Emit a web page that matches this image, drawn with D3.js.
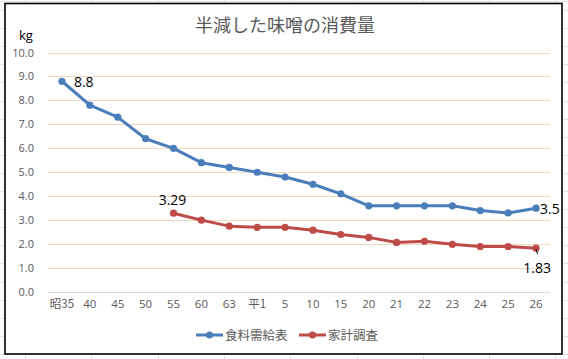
<!DOCTYPE html>
<html><head><meta charset="utf-8">
<script src="https://cdn.jsdelivr.net/npm/d3@7"></script>
<style>body{margin:0;background:#fff}svg{display:block}</style>
</head><body>
<svg id="c" width="568" height="359"></svg>
<script>
const categories = ["昭35","40","45","50","55","60","63","平1","5","10","15","20","21","22","23","24","25","26"];
const supplyValues = [8.8,7.8,7.3,6.4,6.0,5.4,5.2,5.0,4.8,4.5,4.1,3.6,3.6,3.6,3.6,3.4,3.3,3.5];
const householdValues = [null,null,null,null,3.29,3.0,2.75,2.7,2.7,2.58,2.4,2.28,2.07,2.12,1.99,1.9,1.9,1.83];
const yTicks = [0,1,2,3,4,5,6,7,8,9,10];
const seriesNames = ["食料需給表","家計調査"];
const title = "半減した味噌の消費量";
const unitLabel = "kg";

const W = 568, H = 359;
const svg = d3.select("#c");
const jp = "'Noto Sans CJK JP', sans-serif";
const num = "'Open Sans','Noto Sans',sans-serif";

// spreadsheet grid behind chart
const gridX = [25,91,158,224,290,357,423,489,555];
const gridG = svg.append("g").attr("stroke","#e3e3e3").attr("stroke-width",1);
gridX.forEach(x=>gridG.append("line").attr("x1",x+0.5).attr("x2",x+0.5).attr("y1",0).attr("y2",H));
d3.range(10,H,18.1).forEach(y=>gridG.append("line").attr("x1",0).attr("x2",W).attr("y1",Math.round(y)+0.5).attr("y2",Math.round(y)+0.5));
svg.append("line").attr("x1",0).attr("x2",W).attr("y1",1.5).attr("y2",1.5).attr("stroke","#e3e3e3");

// chart box
svg.append("rect").attr("x",5).attr("y",3.5).attr("width",557).attr("height",350.5)
  .attr("fill","#fff").attr("stroke","#000").attr("stroke-width",1.6);

const plot = {l:48, r:550, t:52.5, b:292};
const x = d3.scaleBand().domain(categories).range([plot.l, plot.r]);
const y = d3.scaleLinear().domain([0,10]).range([plot.b, plot.t]);
const cx = d => x(d) + x.bandwidth()/2;

// gridlines
svg.append("g").selectAll("line").data(yTicks.filter(t=>t>0)).join("line")
  .attr("x1",plot.l).attr("x2",plot.r)
  .attr("y1",d=>Math.round(y(d))+0.5).attr("y2",d=>Math.round(y(d))+0.5)
  .attr("stroke","#f1d9bd").attr("stroke-width",1);
svg.append("line").attr("x1",plot.l).attr("x2",plot.r)
  .attr("y1",Math.round(y(0))+0.5).attr("y2",Math.round(y(0))+0.5)
  .attr("stroke","#d9d9d9");

// y axis
const yAxis = d3.axisLeft(y).tickValues(yTicks).tickFormat(d3.format(".1f")).tickSize(0).tickPadding(0);
const yg = svg.append("g").attr("transform",`translate(${34},0)`).call(yAxis);
yg.select(".domain").remove();
yg.selectAll("text").attr("font-family",num).attr("font-size",11).attr("fill","#595959");

// x axis
const xAxis = d3.axisBottom(x).tickSize(0).tickPadding(0);
const xg = svg.append("g").attr("transform",`translate(0,${300})`).call(xAxis);
xg.select(".domain").remove();
xg.selectAll("text").attr("font-family",(d)=>/[^\x00-\x7f]/.test(d)?jp:num).attr("font-size",11.5).attr("fill","#595959");

// title & unit
svg.append("text").attr("x",285).attr("y",32).attr("text-anchor","middle")
  .attr("font-family",jp).attr("font-size",18).attr("fill","#595959").text(title);
svg.append("text").attr("x",19).attr("y",40).attr("font-family",num).attr("font-size",13).attr("fill","#000").text(unitLabel);

const colors = ["#4a7ebb","#be4b48"];
const line = d3.line().defined(d=>d.v!=null).x(d=>cx(d.c)).y(d=>y(d.v));
[supplyValues, householdValues].forEach((vals,i)=>{
  const data = categories.map((c,j)=>({c, v: vals[j]}));
  svg.append("path").datum(data).attr("d",line).attr("fill","none")
    .attr("stroke",colors[i]).attr("stroke-width",3).attr("stroke-linejoin","round");
  svg.append("g").selectAll("circle").data(data.filter(d=>d.v!=null)).join("circle")
    .attr("cx",d=>cx(d.c)).attr("cy",d=>y(d.v)).attr("r",3.6).attr("fill",colors[i]);
});

// data labels
const lbl = (t,xx,yy,anchor)=>svg.append("text").attr("x",xx).attr("y",yy).attr("text-anchor",anchor||"start")
  .attr("font-family",num).attr("font-size",14).attr("fill","#000").text(t);
lbl("8.8", cx(categories[0])+12, y(supplyValues[0])+6);
lbl("3.29", cx(categories[4])-1, y(householdValues[4])-8, "middle");
lbl("3.5", cx(categories[17])+4, y(supplyValues[17])+6);
lbl("1.83", cx(categories[17])+1, y(householdValues[17])+25, "middle");
svg.append("line").attr("x1",cx(categories[17])).attr("y1",y(householdValues[17])+1)
  .attr("x2",cx(categories[17])+1.5).attr("y2",y(householdValues[17])+6).attr("stroke","#000").attr("stroke-width",1);

// legend
const leg = [{x:196, name:seriesNames[0], c:colors[0]},{x:299, name:seriesNames[1], c:colors[1]}];
leg.forEach(l=>{
  svg.append("line").attr("x1",l.x).attr("x2",l.x+27).attr("y1",335).attr("y2",335).attr("stroke",l.c).attr("stroke-width",3);
  svg.append("circle").attr("cx",l.x+13.5).attr("cy",335).attr("r",3.6).attr("fill",l.c);
  svg.append("text").attr("x",l.x+29).attr("y",339.5).attr("font-family",jp).attr("font-size",12.5).attr("fill","#595959").text(l.name);
});
</script>
</body></html>
